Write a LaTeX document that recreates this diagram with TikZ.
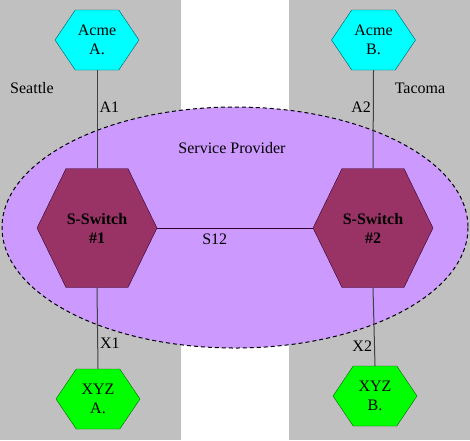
\documentclass[tikz,border=0pt]{standalone}
\usepackage{fontspec}
\setmainfont{Liberation Serif}
\usepackage{tikz}
\usetikzlibrary{shapes.symbols}

\definecolor{zonegray}{HTML}{C0C0C0}
\definecolor{provider}{HTML}{CC99FF}
\definecolor{switchred}{HTML}{993366}
\definecolor{switchline}{HTML}{330033}
\definecolor{acmecyan}{HTML}{00FFFF}
\definecolor{xyzgreen}{HTML}{00FF00}

\tikzset{
  hexnode/.style={signal, signal to=east and west, inner sep=0pt, align=center,
    font=\fontsize{16}{19}\selectfont},
  site/.style={hexnode, minimum width=84pt, minimum height=60pt, signal pointer angle=112},
  sswitch/.style={hexnode, minimum width=120pt, minimum height=119pt, signal pointer angle=128,
    fill=switchred, draw=switchline, font=\fontsize{16}{19}\selectfont\bfseries},
  link/.style={draw=black!75, line width=1pt},
  lbl/.style={font=\fontsize{16}{19}\selectfont, inner sep=2pt}
}

\begin{document}
\begin{tikzpicture}[x=1pt, y=-1pt]
	\useasboundingbox (0,0) rectangle (470,440);
	
	% the two city zones
	\fill[zonegray] (0,0) rectangle (181,440);
	\fill[zonegray] (289,0) rectangle (470,440);
	\draw (32,88) node[lbl] (seattle) {Seattle};
	\draw (420,88) node[lbl] (tacoma) {Tacoma};
	
	% provider cloud
	\draw[fill=provider, dashed, dash pattern=on 4pt off 3pt, line width=1pt] (235,227.5) ellipse (233 and 120.5);
	\draw (232,148) node[lbl] (sp) {Service Provider};
	
	\node[sswitch] (sw1) at (97,228) {S-Switch\\\#1};
	\node[sswitch] (sw2) at (373,228) {S-Switch\\\#2};
	
	\node[site, fill=acmecyan, draw=teal!70!black] (acmeA) at (97,40) {Acme\\A.};
	\node[site, fill=acmecyan, draw=teal!70!black] (acmeB) at (373.5,40) {Acme\\B.};
	\node[site, fill=xyzgreen, draw=green!40!black] (xyzA) at (98,399) {XYZ\\A.};
	\node[site, fill=xyzgreen, draw=green!40!black] (xyzB) at (375,396) {XYZ\\B.};
	
	\draw[link] (acmeA.south) -- node[lbl, pos=0.38, anchor=west] {A1} (sw1.north);
	\draw[link] (acmeB.south) -- node[lbl, pos=0.38, anchor=east] {A2} (sw2.north);
	\draw[link] (sw1.south) -- node[lbl, pos=0.68, anchor=west] {X1} (xyzA.north);
	\draw[link] (sw2.south) -- node[lbl, pos=0.75, anchor=east] {X2} (xyzB.north);
	\draw[link, draw=switchline] (sw1.east) -- node[lbl, pos=0.37, below=3pt] {S12} (sw2.west);
	
\end{tikzpicture}
\end{document}
